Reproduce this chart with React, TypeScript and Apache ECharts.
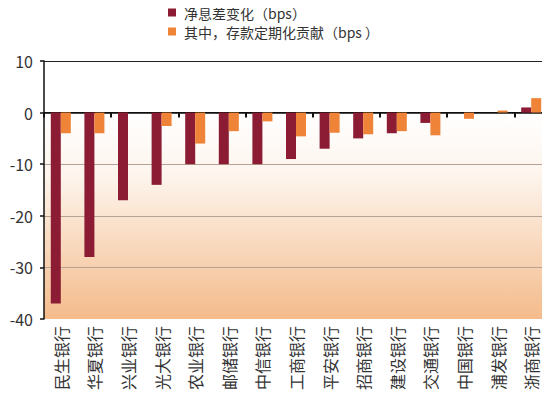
import React, { useEffect, useRef } from "react";
import * as echarts from "echarts";

const categories = ["民生银行", "华夏银行", "兴业银行", "光大银行", "农业银行", "邮储银行", "中信银行", "工商银行", "平安银行", "招商银行", "建设银行", "交通银行", "中国银行", "浦发银行", "浙商银行"];
const nimChange = [-37, -28, -17, -14, -10, -10, -10, -9, -7, -5, -4, -2, 0, 0, 1];
const depositContribution = [-4, -4, 0, -2.6, -6, -3.6, -1.7, -4.6, -3.9, -4.2, -3.6, -4.4, -1.2, 0.4, 2.8];
const seriesNames = ["净息差变化（bps）", "其中，存款定期化贡献（bps ）"];
const yTicks = { min: -40, max: 10, interval: 10 };

export default function App() {
  const ref = useRef<HTMLDivElement>(null);
  useEffect(() => {
    if (!ref.current) return;
    const chart = echarts.init(ref.current, undefined, { renderer: "svg" });
    const font = "'Noto Sans CJK SC', 'Noto Sans', sans-serif";
    chart.setOption({
      animation: false,
      textStyle: { fontFamily: font },
      legend: {
        data: seriesNames,
        orient: "vertical",
        left: 163,
        top: 0,
        itemWidth: 8,
        itemHeight: 8,
        itemGap: 4,
        icon: "rect",
        textStyle: { fontSize: 14, lineHeight: 15, color: "#333", fontFamily: font, padding: [0, 0, 0, 3] },
      },
      grid: {
        left: 44,
        right: 2,
        top: 61,
        bottom: 79,
        show: true,
        borderWidth: 0,
        backgroundColor: new echarts.graphic.LinearGradient(0, 0, 0, 1, [
          { offset: 0, color: "#ffffff" },
          { offset: 0.2, color: "#ffffff" },
          { offset: 0.45, color: "#fdf4ec" },
          { offset: 1, color: "#f4bb8b" },
        ]),
      },
      xAxis: [
        {
          type: "category",
          data: categories,
          axisLine: { show: false, onZero: false },
          axisTick: { show: false },
          axisLabel: { rotate: 90, fontSize: 16, color: "#333", margin: 7, fontFamily: font },
        },
        {
          type: "category",
          data: categories,
          position: "bottom",
          axisLine: { show: true, onZero: true, lineStyle: { color: "#111", width: 1.5 } },
          axisTick: { show: true, length: 5, lineStyle: { color: "#111", width: 2 } },
          axisLabel: { show: false },
        },
      ],
      yAxis: [
        {
          type: "value",
          min: yTicks.min,
          max: yTicks.max,
          interval: yTicks.interval,
          axisLine: { show: true, lineStyle: { color: "#111", width: 1.5 } },
          axisTick: { show: true, length: 4, lineStyle: { color: "#111", width: 1.5 } },
          axisLabel: { fontSize: 16, color: "#333", margin: 11, fontFamily: font },
          splitLine: {
            show: true,
            lineStyle: { color: ["rgba(0,0,0,0)", "#b5a496", "#b5a496", "#b5a496", "#111", "#222"], width: 1 },
          },
        },
        {
          type: "value",
          position: "right",
          min: yTicks.min,
          max: yTicks.max,
          interval: yTicks.interval,
          axisLine: { show: true, lineStyle: { color: "#222", width: 1 } },
          axisTick: { show: false },
          axisLabel: { show: false },
          splitLine: { show: false },
        },
      ],
      series: [
        {
          name: seriesNames[0],
          type: "bar",
          data: nimChange,
          barWidth: 10,
          barGap: "0%",
          itemStyle: { color: "#8b1c33" },
          z: 3,
        },
        {
          name: seriesNames[1],
          type: "bar",
          data: depositContribution,
          barWidth: 10,
          barGap: "0%",
          itemStyle: { color: "#ef8337" },
          z: 3,
        },
      ],
    });
    return () => chart.dispose();
  }, []);
  return <div ref={ref} style={{ width: 550, height: 398, margin: -8 }} />;
}
